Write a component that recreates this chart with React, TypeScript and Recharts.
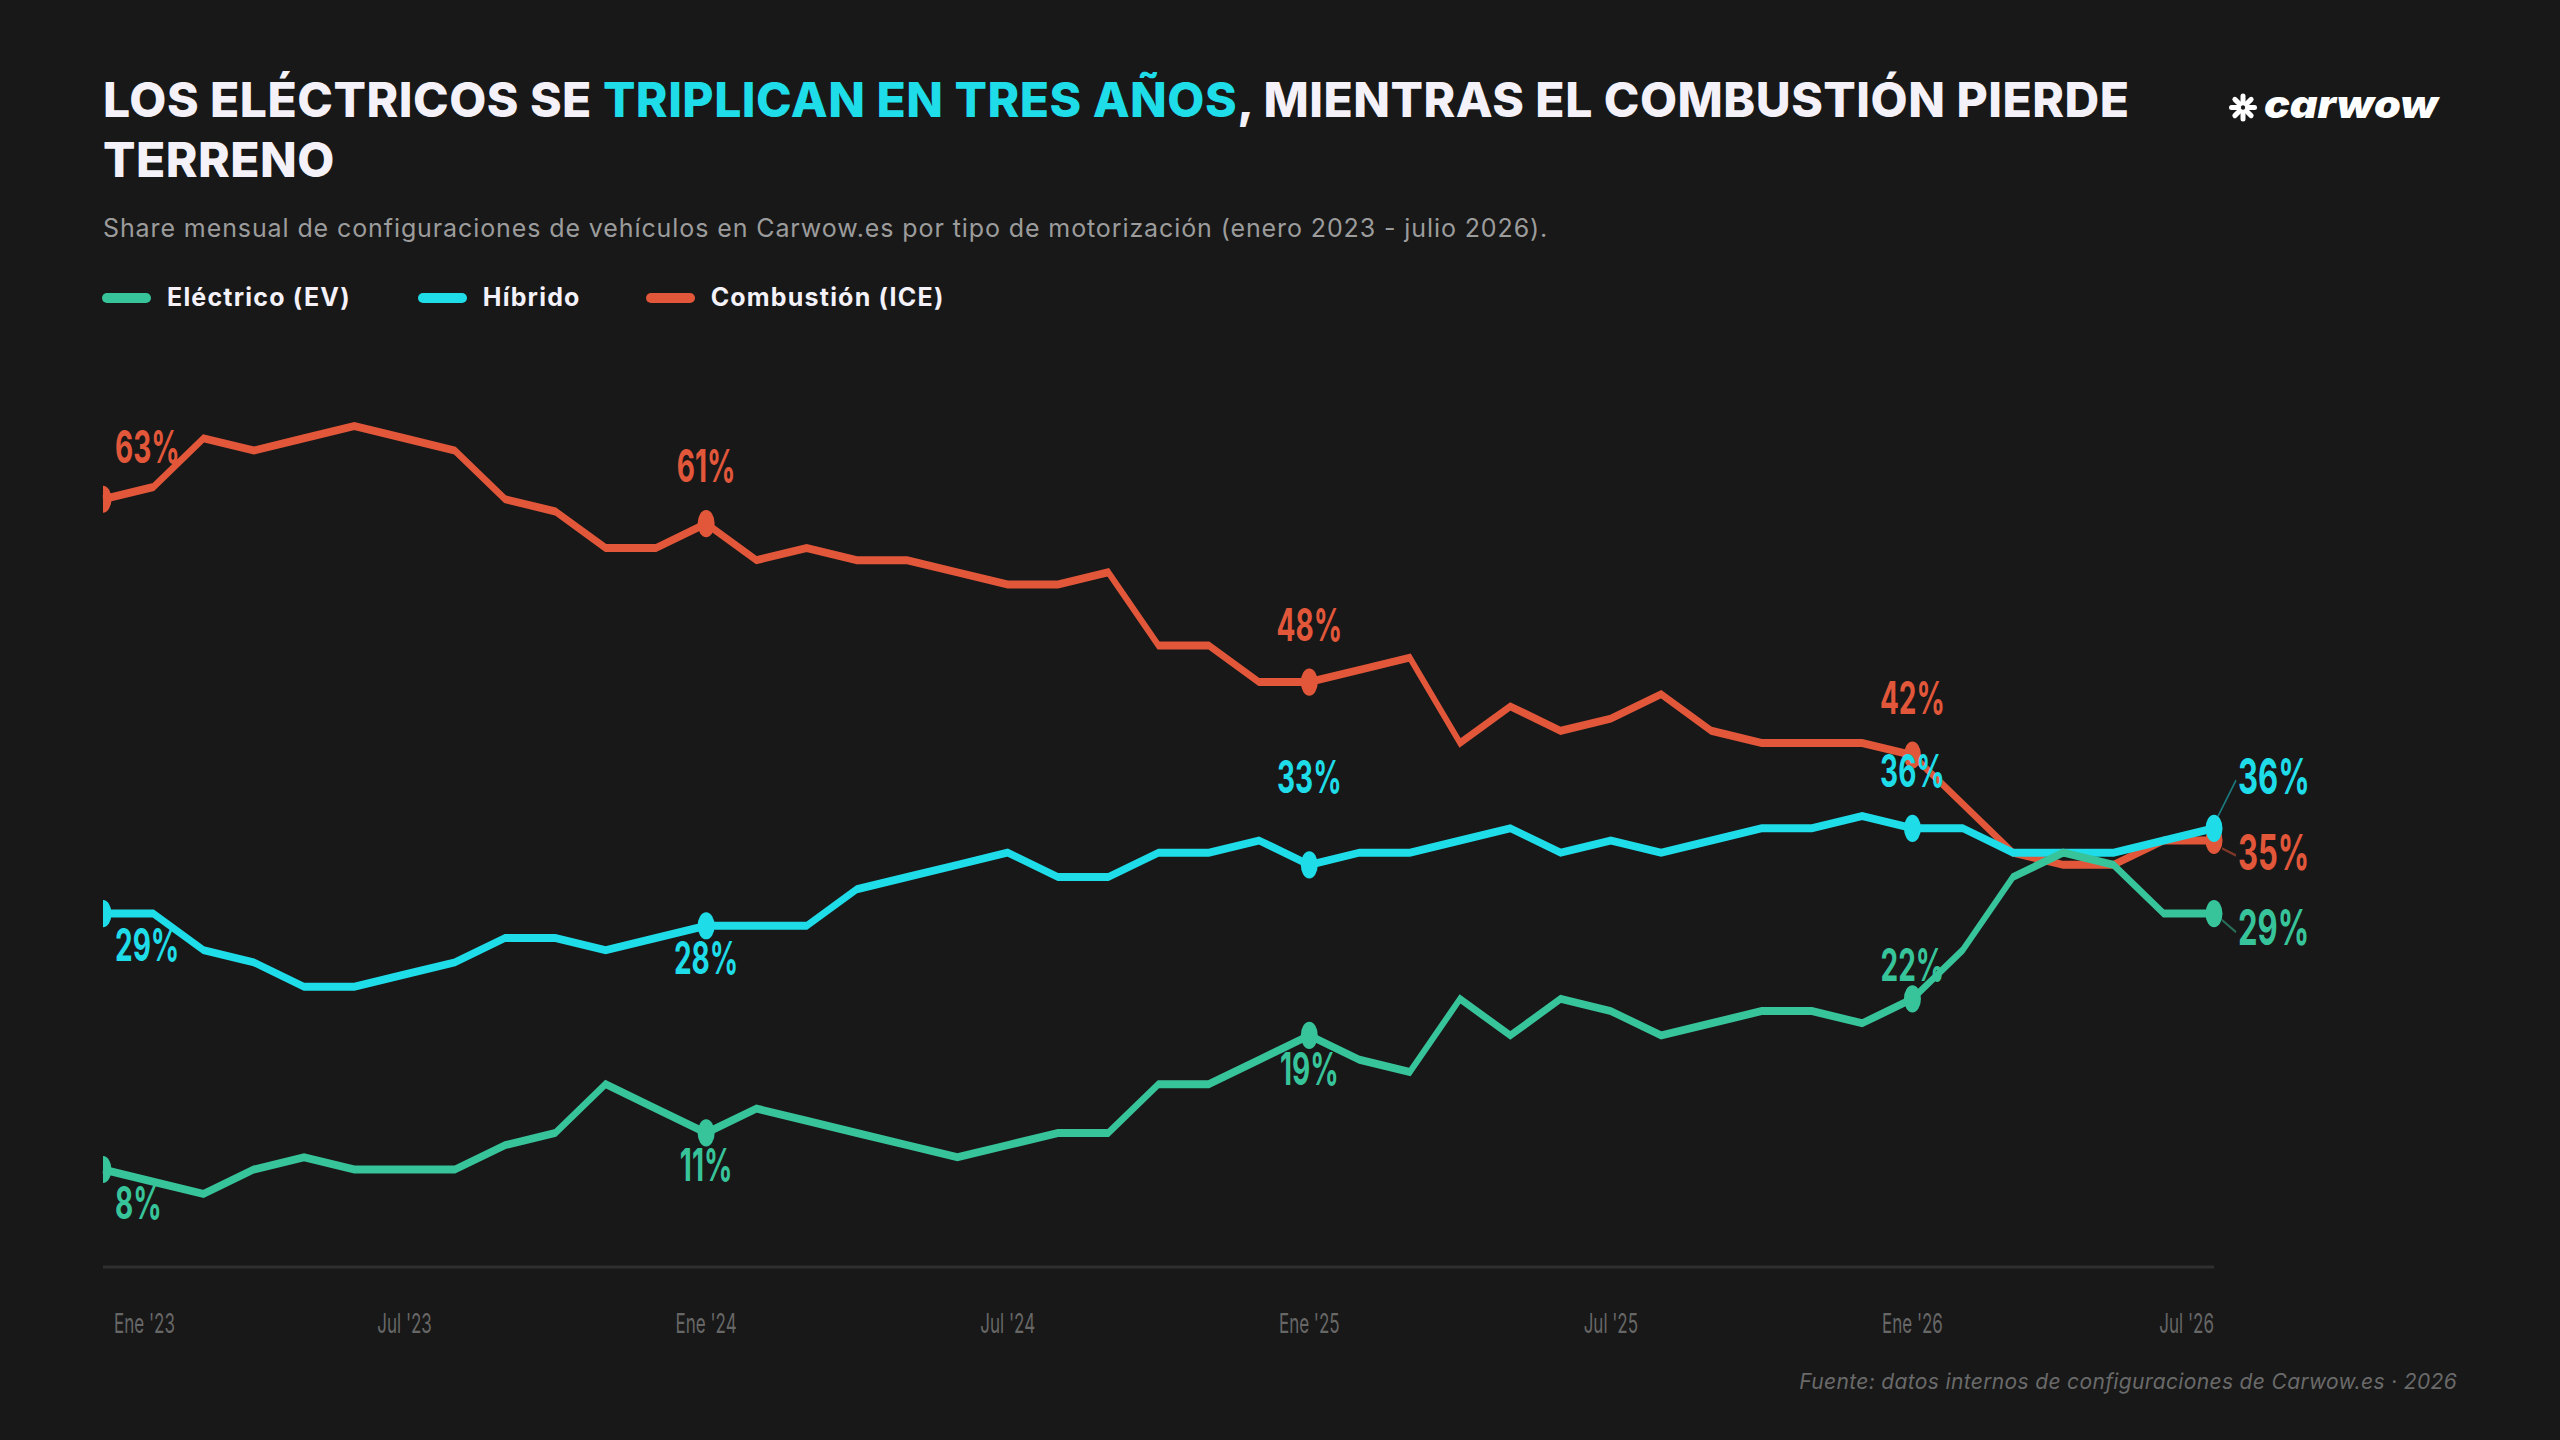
import React from 'react';
import { LineChart, Line, XAxis, YAxis } from 'recharts';

// ---------- data ----------
const MONTHS = [
  "Ene '23", "Feb '23", "Mar '23", "Abr '23", "May '23", "Jun '23", "Jul '23", "Ago '23", "Sep '23", "Oct '23", "Nov '23", "Dic '23",
  "Ene '24", "Feb '24", "Mar '24", "Abr '24", "May '24", "Jun '24", "Jul '24", "Ago '24", "Sep '24", "Oct '24", "Nov '24", "Dic '24",
  "Ene '25", "Feb '25", "Mar '25", "Abr '25", "May '25", "Jun '25", "Jul '25", "Ago '25", "Sep '25", "Oct '25", "Nov '25", "Dic '25",
  "Ene '26", "Feb '26", "Mar '26", "Abr '26", "May '26", "Jun '26", "Jul '26",
];

const ELECTRICO = [8, 7, 6, 8, 9, 8, 8, 8, 10, 11, 15, 13, 11, 13, 12, 11, 10, 9, 10, 11, 11, 15, 15, 17, 19, 17, 16, 22, 19, 22, 21, 19, 20, 21, 21, 20, 22, 26, 32, 34, 33, 29, 29];
const HIBRIDO = [29, 29, 26, 25, 23, 23, 24, 25, 27, 27, 26, 27, 28, 28, 28, 31, 32, 33, 34, 32, 32, 34, 34, 35, 33, 34, 34, 35, 36, 34, 35, 34, 35, 36, 36, 37, 36, 36, 34, 34, 34, 35, 36];
const COMBUSTION = [63, 64, 68, 67, 68, 69, 68, 67, 63, 62, 59, 59, 61, 58, 59, 58, 58, 57, 56, 56, 57, 51, 51, 48, 48, 49, 50, 43, 46, 44, 45, 47, 44, 43, 43, 43, 42, 38, 34, 33, 33, 35, 35];

const SERIES_NAMES = { ev: 'Eléctrico (EV)', hy: 'Híbrido', ice: 'Combustión (ICE)' };
const Y_DOMAIN = [0, 75];
const ANNOTATED = [0, 12, 24, 36];

// ---------- style / layout config ----------
const COLORS: Record<string, string> = { ev: '#37C49A', hy: '#1EDCE8', ice: '#E2573A' };
const BG = '#181818';
const FONT = "Inter, 'Noto Sans', sans-serif";
const SY = 1.6;
const CHART_TOP = 340;
const CHART_W = 2560;
const CHART_H = 640;
const DOT_R = 8.5;

const LABEL_OFFSETS: Record<string, number[]> = {
  ice: [-22.7, -26, -25.4, -25.7],
  hy: [29.9, 30.2, -44.8, -25.7],
  ev: [31.1, 30.2, 30.8, -11],
};
const END_OFFSETS: Record<string, number> = { ice: 18.5, hy: -21.2, ev: 19.7 };
const LEADERS: Record<string, number[]> = {
  hy: [4, -7.5, 22, -30],
  ice: [8, 5, 22, 9.4],
  ev: [8, 4, 22, 11.6],
};

const data = MONTHS.map((m, i) => ({
  month: m,
  ev: ELECTRICO[i],
  hy: HIBRIDO[i],
  ice: COMBUSTION[i],
}));

function makeDot(key: string) {
  const color = COLORS[key];
  return (props: any) => {
    const { cx, cy, index, payload } = props;
    const k = `${key}-dot-${index}`;
    if (cx == null || cy == null) return <g key={k} />;
    const v = payload[key];
    const last = index === data.length - 1;
    const ai = ANNOTATED.indexOf(index);
    if (!last && ai < 0) return <g key={k} />;
    const textStyle = { fontFamily: FONT, fontWeight: 700 } as React.CSSProperties;
    if (last) {
      const [x1, y1, x2, y2] = LEADERS[key];
      return (
        <g key={k}>
          <line x1={cx + x1} y1={cy + y1} x2={cx + x2} y2={cy + y2} stroke={color} strokeOpacity={0.5} strokeWidth={1.5} />
          <circle cx={cx} cy={cy} r={DOT_R} fill={color} />
          <text x={cx + 24} y={cy + END_OFFSETS[key]} textAnchor="start" fontSize={31} fill={color} style={textStyle}>
            {v}%
          </text>
        </g>
      );
    }
    const first = index === 0;
    return (
      <g key={k}>
        {first ? (
          <path d={`M${cx},${cy - DOT_R} A${DOT_R},${DOT_R} 0 0 1 ${cx},${cy + DOT_R} Z`} fill={color} />
        ) : (
          <circle cx={cx} cy={cy} r={DOT_R} fill={color} />
        )}
        <text
          x={first ? cx + 12 : cx}
          y={cy + LABEL_OFFSETS[key][ai]}
          textAnchor={first ? 'start' : 'middle'}
          fontSize={28}
          fill={color}
          style={textStyle}
        >
          {v}%
        </text>
      </g>
    );
  };
}

const MonthTick = (props: any) => {
  const { x, y, payload } = props;
  const value = payload.value;
  const isFirst = value === MONTHS[0];
  const isLast = value === MONTHS[MONTHS.length - 1];
  return (
    <text
      x={isFirst ? x + 11 : x}
      y={y + 41}
      textAnchor={isFirst ? 'start' : isLast ? 'end' : 'middle'}
      fontSize={17}
      fill="#676767"
      style={{ fontFamily: FONT }}
    >
      {value}
    </text>
  );
};

const LegendItem = ({ color, label, marginRight }: { color: string; label: string; marginRight: number }) => (
  <div style={{ display: 'flex', alignItems: 'center', marginRight }}>
    <div style={{ width: 49, height: 10, borderRadius: 5, background: color, marginRight: 16 }} />
    <span>{label}</span>
  </div>
);

const Logo = () => {
  const rays = [0, 45, 90, 135, 180, 225, 270, 315];
  return (
    <svg width={300} height={60} style={{ position: 'absolute', left: 2225, top: 78, overflow: 'visible' }}>
      <g transform="translate(18,29.5)">
        {rays.map((a) => (
          <line
            key={a}
            x1={Math.cos((a * Math.PI) / 180) * 4.5}
            y1={Math.sin((a * Math.PI) / 180) * 4.5}
            x2={Math.cos((a * Math.PI) / 180) * 11.5}
            y2={Math.sin((a * Math.PI) / 180) * 11.5}
            stroke="#fff"
            strokeWidth={5}
            strokeLinecap="round"
          />
        ))}
      </g>
      <text
        x={39}
        y={40}
        fontSize={38}
        fontWeight={900}
        fontStyle="italic"
        fill="#fff"
        textLength={174}
        lengthAdjust="spacingAndGlyphs"
        style={{ fontFamily: FONT }}
      >
        carwow
      </text>
    </svg>
  );
};

export default function App() {
  return (
    <div
      style={{
        position: 'absolute',
        left: 0,
        top: 0,
        width: 2560,
        height: 1440,
        background: BG,
        fontFamily: FONT,
        overflow: 'hidden',
      }}
    >
      <div
        style={{
          position: 'absolute',
          left: 103,
          top: 69.5,
          fontSize: 48,
          lineHeight: '60px',
          fontWeight: 800,
          letterSpacing: 0.5,
          color: '#F4F2F8',
          whiteSpace: 'nowrap',
        }}
      >
        LOS ELÉCTRICOS SE <span style={{ color: COLORS.hy }}>TRIPLICAN EN TRES AÑOS</span>, MIENTRAS EL COMBUSTIÓN PIERDE
        <br />
        TERRENO
      </div>
      <Logo />
      <div
        style={{
          position: 'absolute',
          left: 103,
          top: 216.4,
          fontSize: 25,
          lineHeight: '25px',
          letterSpacing: 0.9,
          color: '#9c9c9c',
          whiteSpace: 'nowrap',
        }}
      >
        Share mensual de configuraciones de vehículos en Carwow.es por tipo de motorización (enero 2023 - julio 2026).
      </div>
      <div
        style={{
          position: 'absolute',
          left: 102,
          top: 285.4,
          display: 'flex',
          fontSize: 25,
          lineHeight: '25px',
          fontWeight: 700,
          letterSpacing: 1.2,
          color: '#F4F2F8',
          whiteSpace: 'nowrap',
        }}
      >
        <LegendItem color={COLORS.ev} label={SERIES_NAMES.ev} marginRight={67} />
        <LegendItem color={COLORS.hy} label={SERIES_NAMES.hy} marginRight={65} />
        <LegendItem color={COLORS.ice} label={SERIES_NAMES.ice} marginRight={0} />
      </div>

      <div
        style={{
          position: 'absolute',
          left: 0,
          top: CHART_TOP,
          width: CHART_W,
          height: CHART_H,
          transform: `scaleY(${SY})`,
          transformOrigin: '0 0',
        }}
      >
        <LineChart
          width={CHART_W}
          height={CHART_H}
          data={data}
          margin={{ top: 8.125, right: 346, bottom: 0.625, left: 103 }}
        >
          <XAxis
            dataKey="month"
            interval={5}
            tickLine={false}
            tickSize={0}
            tickMargin={0}
            height={60}
            padding={{ left: 0, right: 0 }}
            axisLine={{ stroke: '#2f2f2f', strokeWidth: 2 }}
            tick={<MonthTick />}
          />
          <YAxis
            domain={Y_DOMAIN}
            tickCount={6}
            width={0}
            tick={false}
            tickLine={false}
            axisLine={{ stroke: '#272727', strokeWidth: 1.5 }}
          />
          <Line
            type="linear"
            dataKey="ice"
            name={SERIES_NAMES.ice}
            stroke={COLORS.ice}
            strokeWidth={5}
            dot={makeDot('ice')}
            activeDot={false}
            isAnimationActive={false}
          />
          <Line
            type="linear"
            dataKey="hy"
            name={SERIES_NAMES.hy}
            stroke={COLORS.hy}
            strokeWidth={5}
            dot={makeDot('hy')}
            activeDot={false}
            isAnimationActive={false}
          />
          <Line
            type="linear"
            dataKey="ev"
            name={SERIES_NAMES.ev}
            stroke={COLORS.ev}
            strokeWidth={5}
            dot={makeDot('ev')}
            activeDot={false}
            isAnimationActive={false}
          />
        </LineChart>
      </div>

      <div
        style={{
          position: 'absolute',
          right: 103,
          top: 1371,
          fontSize: 21,
          lineHeight: '21px',
          letterSpacing: 0.35,
          fontStyle: 'italic',
          color: '#6a6a6a',
          whiteSpace: 'nowrap',
        }}
      >
        Fuente: datos internos de configuraciones de Carwow.es · 2026
      </div>
    </div>
  );
}
